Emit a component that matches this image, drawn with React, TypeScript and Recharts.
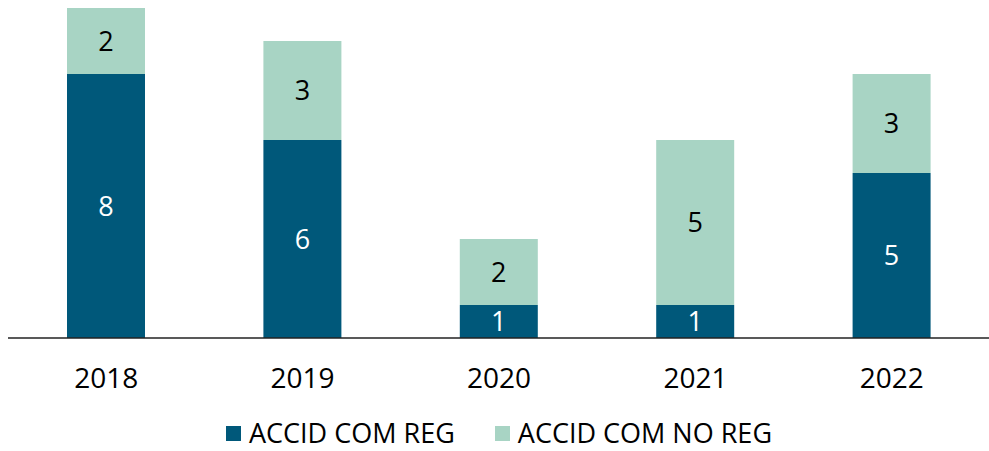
import { BarChart, Bar, XAxis, YAxis, Legend, LabelList } from "recharts";

const years = ["2018", "2019", "2020", "2021", "2022"];
const withReg = [8, 6, 1, 1, 5];
const withoutReg = [2, 3, 2, 5, 3];

const DARK = "#00587A";
const LIGHT = "#A8D4C4";
const FONT = "'Open Sans', sans-serif";

const data = years.map((year, i) => ({
  year,
  reg: withReg[i],
  noReg: withoutReg[i],
}));

function LegendBox() {
  const items = [
    { label: "ACCID COM REG", color: DARK },
    { label: "ACCID COM NO REG", color: LIGHT },
  ];
  return (
    <div style={{ display: "flex", justifyContent: "center", gap: 40, fontFamily: FONT, fontSize: 27, color: "#000", lineHeight: "32px", height: 36, alignItems: "center" }}>
      {items.map((it) => (
        <div key={it.label} style={{ display: "flex", alignItems: "center" }}>
          <span style={{ width: 15, height: 15, background: it.color, marginRight: 8, display: "inline-block" }} />
          <span>{it.label}</span>
        </div>
      ))}
    </div>
  );
}

export default function App() {
  return (
    <div style={{ position: "absolute", left: 0, top: 0, background: "#fff" }}>
      <BarChart
        width={989}
        height={451}
        data={data}
        margin={{ top: 8, right: -1, left: 8, bottom: 0 }}
      >
        <XAxis
          dataKey="year"
          tick={{ fontSize: 28, fill: "#000", fontFamily: FONT }}
          tickLine={false}
          axisLine={{ stroke: "#222", strokeWidth: 1.5 }}
          tickMargin={24}
          height={77}
        />
        <YAxis hide domain={[0, 10]} />
        <Legend verticalAlign="bottom" height={36} content={() => <LegendBox />} />
        <Bar dataKey="reg" stackId="a" fill={DARK} barSize={78} isAnimationActive={false}>
          <LabelList dataKey="reg" position="center" fill="#fff" style={{ fontSize: 27, fontFamily: FONT }} />
        </Bar>
        <Bar dataKey="noReg" stackId="a" fill={LIGHT} barSize={78} isAnimationActive={false}>
          <LabelList dataKey="noReg" position="center" fill="#000" style={{ fontSize: 27, fontFamily: FONT }} />
        </Bar>
      </BarChart>
    </div>
  );
}
